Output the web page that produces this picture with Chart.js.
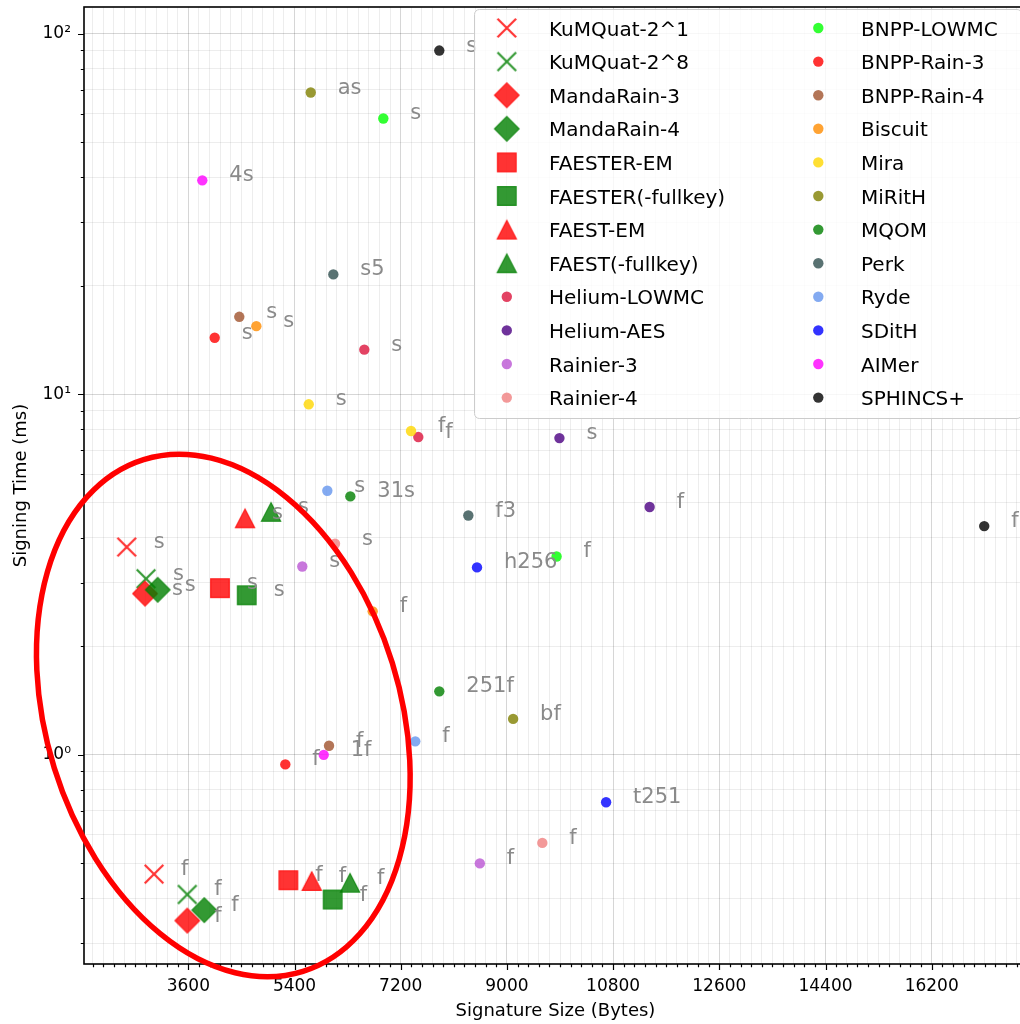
<!DOCTYPE html>
<html>
<head>
<meta charset="utf-8">
<script src="https://cdn.jsdelivr.net/npm/chart.js@4.4.1/dist/chart.umd.min.js"></script>
<style>
  html, body { margin: 0; padding: 0; overflow: hidden; background: #fff; width: 1020px; height: 1024px; }
  #wrap { width: 1020px; height: 1024px; overflow: hidden; position: relative; }
  canvas { display: block; position: absolute; left: 0; top: 0; }
</style>
</head>
<body>
<div id="wrap"><canvas id="c" width="1030" height="1024"></canvas></div>
<script>
// ---------------- DATA ----------------
const schemes = [
  'KuMQuat-2^1', 'KuMQuat-2^8', 'MandaRain-3', 'MandaRain-4',
  'FAESTER-EM', 'FAESTER(-fullkey)', 'FAEST-EM', 'FAEST(-fullkey)',
  'Helium-LOWMC', 'Helium-AES', 'Rainier-3', 'Rainier-4',
  'BNPP-LOWMC', 'BNPP-Rain-3', 'BNPP-Rain-4', 'Biscuit',
  'Mira', 'MiRitH', 'MQOM', 'Perk', 'Ryde', 'SDitH', 'AIMer', 'SPHINCS+'
];
// "s" variant: signature size (bytes) and signing time (ms)
const sizeS = [2556, 2883, 2866, 3081, 4137, 4590, 4561, 5002,
               6583, 9890, 5532, 6086, 6905, 4047, 4464, 4753,
               5641, 5675, 6346, 6058, 5956, 8493, 3837, 7854];
const timeS = [3.77, 3.08, 2.80, 2.87, 2.90, 2.77, 4.53, 4.72,
               13.3, 7.56, 3.33, 3.85, 58.2, 14.35, 16.4, 15.45,
               9.38, 68.7, 5.21, 21.5, 5.40, 3.31, 39.2, 89.8];
// "f" variant
const sizeF = [3019, 3583, 3583, 3871, 5295, 6047, 5692, 6341,
               7498, 11419, 8541, 9600, 9842, 5244, 5985, 6725,
               7375, 9105, 7854, 8346, 7447, 10681, 5895, 17090];
const timeF = [0.467, 0.410, 0.347, 0.371, 0.449, 0.397, 0.447, 0.442,
               7.61, 4.87, 0.500, 0.570, 3.55, 0.941, 1.06, 2.50,
               7.91, 1.258, 1.50, 4.61, 1.09, 0.739, 1.00, 4.31];
// point annotations
const noteS = ['s','s','s','s','s','s','s','s','s','s','s','s',
               's','s','s','s','s','as','31s','s5','s','h256','4s','s'];
const noteF = ['f','f','f','f','f','f','f','f','f','f','f','f',
               'f','f','f','f','f','bf','251f','f3','f','t251','1f','f'];
const colors = [
  'rgba(255,0,0,0.8)', 'rgba(0,128,0,0.8)', 'rgba(255,0,0,0.8)', 'rgba(0,128,0,0.8)',
  'rgba(255,0,0,0.8)', 'rgba(0,128,0,0.8)', 'rgba(255,0,0,0.8)', 'rgba(0,128,0,0.8)',
  'rgba(220,20,60,0.8)', 'rgba(75,0,130,0.8)', 'rgba(186,85,211,0.8)', 'rgba(240,128,128,0.8)',
  'rgba(0,255,0,0.8)', 'rgba(255,0,0,0.8)', 'rgba(160,82,45,0.8)', 'rgba(255,140,0,0.8)',
  'rgba(255,215,0,0.8)', 'rgba(128,128,0,0.8)', 'rgba(0,128,0,0.8)', 'rgba(47,79,79,0.8)',
  'rgba(100,149,237,0.8)', 'rgba(0,0,255,0.8)', 'rgba(255,0,255,0.8)', 'rgba(0,0,0,0.8)'
];
const markers = ['x','x','diamond','diamond','square','square','triangle','triangle',
                 'dot','dot','dot','dot','dot','dot','dot','dot','dot','dot','dot','dot','dot','dot','dot','dot'];
const xMajorTicks = [3600, 5400, 7200, 9000, 10800, 12600, 14400, 16200];
const yMajorTicks = [1, 10, 100];
const yTickLabels = ['10\u2070', '10\u00B9', '10\u00B2'];
const highlight = { x: 4193, y: 1.286 };   // centre of the red ellipse (data coords)

// ---------------- STYLE ----------------
Chart.defaults.font.family = '"DejaVu Sans"';
Chart.defaults.color = '#000';

function makeMarker(kind, color) {
  const S = 30, c = S / 2;
  const cv = document.createElement('canvas');
  cv.width = S; cv.height = S;
  const g = cv.getContext('2d');
  g.fillStyle = color; g.strokeStyle = color;
  g.beginPath();
  if (kind === 'x') {
    g.lineWidth = 2.2;
    g.moveTo(c - 9.3, c - 9.3); g.lineTo(c + 9.3, c + 9.3);
    g.moveTo(c + 9.3, c - 9.3); g.lineTo(c - 9.3, c + 9.3);
    g.stroke();
  } else if (kind === 'diamond') {
    const r = 12.3;
    g.moveTo(c, c - r); g.lineTo(c + r, c); g.lineTo(c, c + r); g.lineTo(c - r, c); g.closePath();
    g.fill(); g.lineWidth = 1.2; g.stroke();
  } else if (kind === 'square') {
    g.rect(c - 9.3, c - 9.3, 18.6, 18.6);
    g.fill(); g.lineWidth = 1.2; g.stroke();
  } else if (kind === 'triangle') {
    g.moveTo(c, c - 9.3); g.lineTo(c + 9.6, c + 9.3); g.lineTo(c - 9.6, c + 9.3); g.closePath();
    g.fill(); g.lineWidth = 1.2; g.stroke();
  }
  return cv;
}

const styles = markers.map((m, i) => m === 'dot' ? 'circle' : makeMarker(m, colors[i]));

const datasets = schemes.map((name, i) => ({
  label: name,
  data: [{ x: sizeS[i], y: timeS[i] }, { x: sizeF[i], y: timeF[i] }],
  pointStyle: styles[i],
  pointRadius: markers[i] === 'dot' ? 5.2 : 12,
  backgroundColor: colors[i],
  borderColor: colors[i],
  borderWidth: 0,
  order: schemes.length - i
}));

const xTicks = [];
for (let v = 1980; v <= 17700; v += 180) xTicks.push(v);
const yTicks = [];
[0.1, 1, 10].forEach(d => { for (let k = 1; k <= 9; k++) { const v = +(k * d).toPrecision(3); if (v > 0.263 && v < 118.6) yTicks.push(v); } });
yTicks.push(100);

const isXMajor = v => xMajorTicks.includes(v);
const isYMajor = v => yMajorTicks.includes(v);

// ---------------- PLUGIN ----------------
const overlay = {
  id: 'overlay',
  afterDatasetsDraw(chart) {
    const ctx = chart.ctx, xs = chart.scales.x, ys = chart.scales.y;
    ctx.save();
    // point annotations
    ctx.font = '21px "DejaVu Sans"';
    ctx.fillStyle = '#8a8a8a';
    ctx.textAlign = 'left';
    ctx.textBaseline = 'alphabetic';
    schemes.forEach((n, i) => {
      ctx.fillText(noteS[i], xs.getPixelForValue(sizeS[i]) + 27, ys.getPixelForValue(timeS[i]) + 1);
      ctx.fillText(noteF[i], xs.getPixelForValue(sizeF[i]) + 27, ys.getPixelForValue(timeF[i]) + 1);
    });
    // legend
    const L = 474.5, T = 9.5, R = chart.chartArea.right - 5, B = 418.5, rad = 5;
    ctx.beginPath();
    ctx.moveTo(L + rad, T); ctx.lineTo(R - rad, T); ctx.arcTo(R, T, R, T + rad, rad);
    ctx.lineTo(R, B - rad); ctx.arcTo(R, B, R - rad, B, rad);
    ctx.lineTo(L + rad, B); ctx.arcTo(L, B, L, B - rad, rad);
    ctx.lineTo(L, T + rad); ctx.arcTo(L, T, L + rad, T, rad);
    ctx.closePath();
    ctx.fillStyle = 'rgba(255,255,255,0.8)';
    ctx.fill();
    ctx.strokeStyle = '#cccccc'; ctx.lineWidth = 1;
    ctx.stroke();
    ctx.font = '20px "DejaVu Sans"';
    ctx.fillStyle = '#000';
    schemes.forEach((n, i) => {
      const col = i < 12 ? 0 : 1, row = i % 12;
      const cy = 28 + row * 33.6;
      const mx = col === 0 ? 506.8 : 818.3;
      const tx = col === 0 ? 549 : 861;
      if (markers[i] === 'dot') {
        ctx.beginPath(); ctx.arc(mx, cy, 5.2, 0, Math.PI * 2);
        ctx.fillStyle = colors[i]; ctx.fill();
      } else {
        const s = styles[i];
        ctx.drawImage(s, mx - s.width / 2, cy - s.height / 2);
      }
      ctx.fillStyle = '#000';
      ctx.fillText(n, tx, cy + 7.5);
    });
    ctx.restore();
  },
  afterDraw(chart) {
    const ctx = chart.ctx, xs = chart.scales.x, ys = chart.scales.y;
    const a = chart.chartArea;
    ctx.save();
    // spines
    ctx.strokeStyle = '#000'; ctx.lineWidth = 1.6;
    ctx.strokeRect(a.left, a.top, a.right - a.left, a.bottom - a.top);
    // tick marks
    ctx.lineWidth = 1.2;
    ctx.beginPath();
    xs.ticks.forEach(t => {
      const p = Math.round(xs.getPixelForValue(t.value)) + 0.5;
      ctx.moveTo(p, a.bottom); ctx.lineTo(p, a.bottom + (isXMajor(t.value) ? 6 : 3.2));
    });
    ys.ticks.forEach(t => {
      const p = Math.round(ys.getPixelForValue(t.value)) + 0.5;
      ctx.moveTo(a.left, p); ctx.lineTo(a.left - (isYMajor(t.value) ? 6 : 3.2), p);
    });
    ctx.stroke();
    // highlight ellipse
    ctx.beginPath();
    ctx.ellipse(xs.getPixelForValue(highlight.x), ys.getPixelForValue(highlight.y),
                268, 177, 72.7 * Math.PI / 180, 0, Math.PI * 2);
    ctx.strokeStyle = '#ff0000'; ctx.lineWidth = 5.5;
    ctx.stroke();
    ctx.restore();
  }
};

function zeroPad(s) { s.paddingTop = 0; s.paddingBottom = 0; s.paddingLeft = 0; s.paddingRight = 0; }

new Chart(document.getElementById('c'), {
  type: 'scatter',
  data: { datasets },
  options: {
    responsive: false,
    devicePixelRatio: 1,
    animation: false,
    events: [],
    layout: { autoPadding: false, padding: { top: 7, right: 3, left: 0, bottom: 0 } },
    plugins: { legend: { display: false }, tooltip: { enabled: false } },
    scales: {
      x: {
        type: 'linear', min: 1832, max: 17815,
        afterBuildTicks: s => { s.ticks = xTicks.map(v => ({ value: v })); },
        afterFit: s => { s.height = 60; zeroPad(s); },
        grid: {
          drawTicks: false,
          color: c => isXMajor(c.tick.value) ? 'rgba(0,0,0,0.16)' : 'rgba(0,0,0,0.07)',
          lineWidth: 1
        },
        border: { display: false },
        ticks: {
          autoSkip: false, maxRotation: 0, minRotation: 0, padding: 12,
          font: { size: 17 }, color: '#000',
          callback: v => isXMajor(v) ? String(v) : ''
        },
        title: { display: true, text: 'Signature Size (Bytes)', font: { size: 18 }, color: '#000',
                 padding: { top: 0, bottom: 1.5 } }
      },
      y: {
        type: 'logarithmic', min: 0.263, max: 118.6,
        afterBuildTicks: s => { s.ticks = yTicks.map(v => ({ value: v })); },
        afterFit: s => { s.width = 84; zeroPad(s); },
        grid: {
          drawTicks: false,
          color: c => isYMajor(c.tick.value) ? 'rgba(0,0,0,0.16)' : 'rgba(0,0,0,0.07)',
          lineWidth: 1
        },
        border: { display: false },
        ticks: {
          autoSkip: false, padding: 13, font: { size: 17 }, color: '#000',
          callback: v => { const k = yMajorTicks.indexOf(v); return k >= 0 ? yTickLabels[k] : ''; }
        },
        title: { display: true, text: 'Signing Time (ms)', font: { size: 18 }, color: '#000',
                 padding: { top: 11, bottom: 0 } }
      }
    }
  },
  plugins: [overlay]
});
</script>
</body>
</html>
